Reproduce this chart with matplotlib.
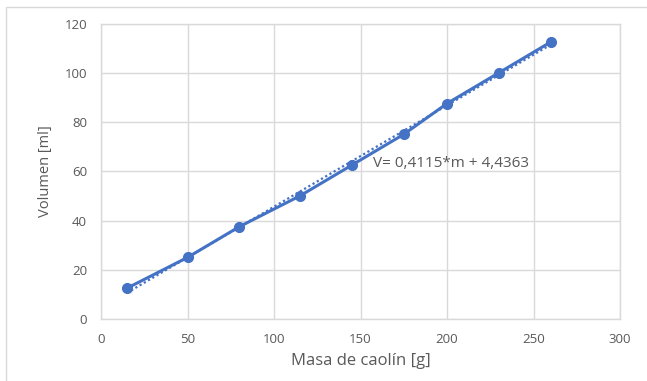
import numpy as np
import matplotlib.pyplot as plt
from matplotlib.patches import Rectangle

# data
masa = [15, 50, 80, 115, 145, 175, 200, 230, 260]
volumen = [12.5, 25, 37.5, 50, 62.5, 75, 87.5, 100, 112.5]
pendiente = 0.4115
ordenada = 4.4363
ecuacion = 'V= 0,4115*m + 4,4363'

azul = '#4472C4'
gris = '#D9D9D9'
texto = '#595959'

plt.rcParams['font.family'] = ['Open Sans', 'DejaVu Sans']

fig = plt.figure(figsize=(6.47, 3.81), dpi=100)
ax = fig.add_axes([101/647, 1 - 319/381, (620 - 101)/647, (319 - 23.5)/381])

# outer chart border (only top and left visible in the crop)
fig.add_artist(Rectangle((6/647, -0.1), 1.2, 1 - 7/381 + 0.1, transform=fig.transFigure,
                         fill=False, edgecolor=gris, linewidth=1))

# trendline
m_fit = np.array([masa[0], masa[-1]])
ax.plot(m_fit, pendiente * m_fit + ordenada, color=azul, linestyle=(0, (1, 1.2)),
        linewidth=1.6, zorder=2)

ax.plot(masa, volumen, color=azul, linewidth=2.2, marker='o', markersize=7, zorder=3)

ax.text(157, 63.3, ecuacion, color=texto, fontsize=11, va='center', ha='left')

ax.set_xlim(0, 300)
ax.set_ylim(0, 120)
ax.set_xticks(range(0, 301, 50))
ax.set_yticks(range(0, 121, 20))
ax.grid(True, color=gris, linewidth=1)
ax.set_axisbelow(True)
for s in ax.spines.values():
    s.set_color(gris)
    s.set_linewidth(1)
ax.tick_params(length=0, colors=texto, labelsize=9.5, pad=10)

ax.set_xlabel('Masa de caolín [g]', color=texto, fontsize=12, labelpad=5)
ax.set_ylabel('Volumen [ml]', color=texto, fontsize=10.5, labelpad=8)

fig.savefig('out.png', dpi=100)
